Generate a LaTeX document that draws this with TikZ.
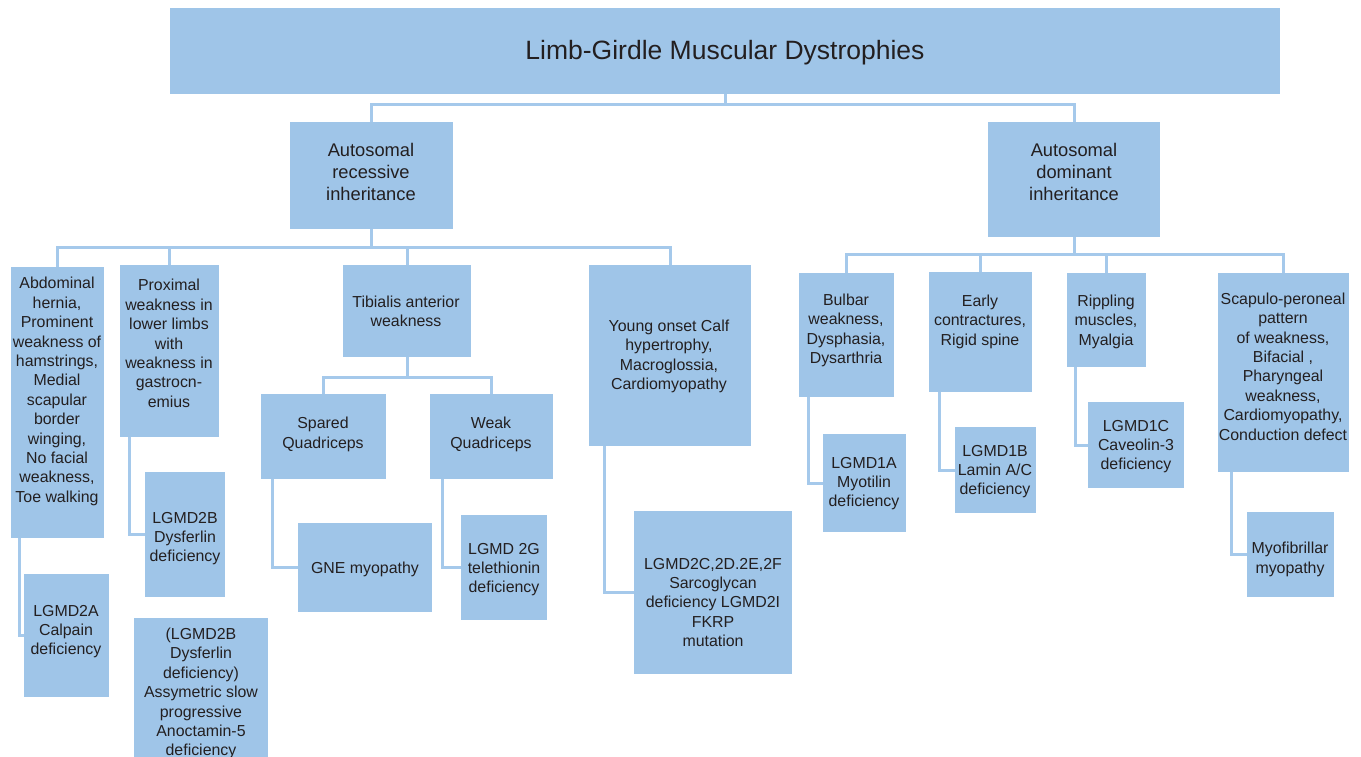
\documentclass[tikz,border=0pt]{standalone}
\usepackage{fontspec}
\setmainfont{Liberation Sans}
\definecolor{boxc}{HTML}{9FC5E8}
\definecolor{linec}{HTML}{A5C9EB}
\definecolor{txtc}{HTML}{231F20}
\pgfdeclarelayer{bg}
\pgfsetlayers{bg,main}
\tikzset{
  box/.style={fill=boxc, draw=none, inner sep=0pt, rectangle},
  txt/.style={text=txtc, align=center, inner sep=0pt, yshift=-1.5pt, font=\fontsize{15.9}{19.4}\selectfont},
  midtxt/.style={text=txtc, align=center, inner sep=0pt, yshift=-1pt, font=\fontsize{18.3}{21.9}\selectfont},
  bigtxt/.style={text=txtc, align=center, inner sep=0pt, yshift=-2.5pt, font=\fontsize{26.5}{32}\selectfont},
  conn/.style={draw=linec, line width=3pt}
}
\newcommand\mybox[9]{%
  \node[box, minimum width={(#4-#2)*1pt}, minimum height={(#5-#3)*1pt}] (#1) at ({(#2+#4)/2},{(#3+#5)/2}) {};
  \node[#8] (#1-t) at (#6,#7) {#9};
}
\begin{document}
\begin{tikzpicture}[x=1pt,y=-1pt]
\useasboundingbox (0,0) rectangle (1361,757);
\clip (0,0) rectangle (1361,757);
% top
\mybox{top}{170}{8}{1280}{94}{725}{50}{bigtxt}{Limb-Girdle Muscular Dystrophies}
\mybox{ar}{290}{122}{453}{229}{371}{171}{midtxt}{Autosomal\\recessive\\inheritance}
\mybox{ad}{988}{122}{1160}{237}{1074}{171}{midtxt}{Autosomal\\dominant\\inheritance}
% recessive branch
\mybox{a1}{11}{267}{104}{538}{57}{390}{txt}{Abdominal\\hernia,\\Prominent\\weakness of\\hamstrings,\\Medial\\scapular\\border\\winging,\\No facial\\weakness,\\Toe walking}
\mybox{a2}{120}{265}{219}{437}{169}{342}{txt}{Proximal\\weakness in\\lower limbs\\with\\weakness in\\gastrocn-\\emius}
\mybox{a3}{343}{265}{471}{357}{406}{310}{txt}{Tibialis anterior\\weakness}
\mybox{a4}{589}{265}{751}{446}{669}{355}{txt}{Young onset Calf\\hypertrophy,\\Macroglossia,\\Cardiomyopathy}
\mybox{sp}{261}{394}{386}{479}{323}{433}{txt}{Spared\\Quadriceps}
\mybox{wk}{430}{394}{553}{479}{491}{433}{txt}{Weak\\Quadriceps}
\mybox{gne}{298}{523}{432}{612}{365}{568}{txt}{GNE myopathy}
\mybox{g2}{461}{515}{547}{620}{504}{568}{txt}{LGMD 2G\\telethionin\\deficiency}
\mybox{c2}{634}{511}{792}{674}{713}{601}{txt}{LGMD2C,2D.2E,2F\\Sarcoglycan\\deficiency LGMD2I\\FKRP\\mutation}
\mybox{b2}{145}{472}{225}{597}{185}{537}{txt}{LGMD2B\\Dysferlin\\deficiency}
\mybox{aa}{24}{574}{109}{697}{66}{630}{txt}{LGMD2A\\Calpain\\deficiency}
\mybox{bb}{134}{618}{268}{775}{201}{692}{txt}{(LGMD2B\\Dysferlin\\deficiency)\\Assymetric slow\\progressive\\Anoctamin-5\\deficiency}
% dominant branch
\mybox{d1}{799}{273}{894}{397}{846}{329}{txt}{Bulbar\\weakness,\\Dysphasia,\\Dysarthria}
\mybox{d2}{929}{272}{1032}{392}{980}{320}{txt}{Early\\contractures,\\Rigid spine}
\mybox{d3}{1067}{273}{1146}{367}{1106}{320}{txt}{Rippling\\muscles,\\Myalgia}
\mybox{d4}{1218}{273}{1349}{472}{1283}{365}{txt}{Scapulo-peroneal\\pattern\\of weakness,\\Bifacial ,\\Pharyngeal\\weakness,\\Cardiomyopathy,\\Conduction defect}
\mybox{e1}{823}{434}{906}{532}{864}{482}{txt}{LGMD1A\\Myotilin\\deficiency}
\mybox{e2}{955}{427}{1036}{513}{995}{470}{txt}{LGMD1B\\Lamin A/C\\deficiency}
\mybox{e3}{1088}{402}{1184}{488}{1136}{445}{txt}{LGMD1C\\Caveolin-3\\deficiency}
\mybox{e4}{1247}{512}{1334}{597}{1290}{558}{txt}{Myofibrillar\\myopathy}
% connectors
\begin{pgfonlayer}{bg}
\draw[conn] (top.south) -- ++(0,10) -| (ar.north);
\draw[conn] (top.south) -- ++(0,10) -| (ad.north);
\draw[conn] (ar.south) -- ++(0,18) -| (a1.north);
\draw[conn] (ar.south) -- ++(0,18) -| (a2.north);
\draw[conn] (ar.south) -- ++(0,18) -| (a3.north);
\draw[conn] (ar.south) -- ++(0,18) -| (a4.north);
\draw[conn] (a3.south) -- ++(0,20) -| (sp.north);
\draw[conn] (a3.south) -- ++(0,20) -| (wk.north);
\draw[conn] (ad.south) -- ++(0,17) -| (d1.north);
\draw[conn] (ad.south) -- ++(0,17) -| (d2.north);
\draw[conn] (ad.south) -- ++(0,17) -| (d3.north);
\draw[conn] (ad.south) -- ++(0,17) -| (d4.north);
\draw[conn] ([xshift=9pt]a1.south west) |- (aa.west);
\draw[conn] ([xshift=10pt]a2.south west) |- (b2.west);
\draw[conn] ([xshift=12pt]sp.south west) |- (gne.west);
\draw[conn] ([xshift=13pt]wk.south west) |- (g2.west);
\draw[conn] ([xshift=16pt]a4.south west) |- (c2.west);
\draw[conn] ([xshift=10pt]d1.south west) |- (e1.west);
\draw[conn] ([xshift=11pt]d2.south west) |- (e2.west);
\draw[conn] ([xshift=9pt]d3.south west) |- (e3.west);
\draw[conn] ([xshift=14pt]d4.south west) |- (e4.west);
\end{pgfonlayer}
\end{tikzpicture}
\end{document}
